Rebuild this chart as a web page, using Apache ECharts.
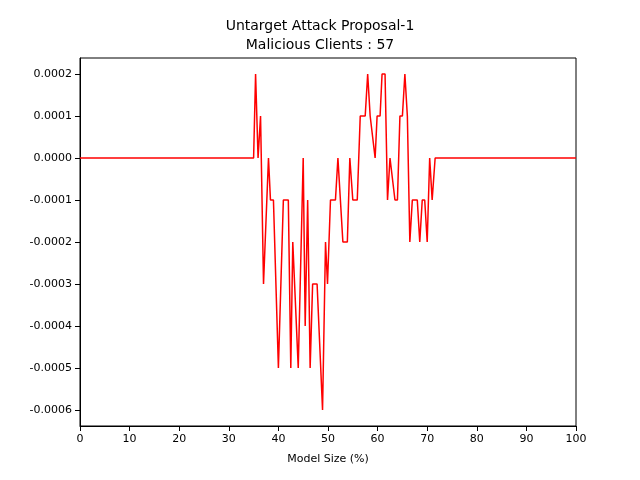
<!DOCTYPE html>
<html><head><meta charset="utf-8">
<script src="https://cdn.jsdelivr.net/npm/echarts@6/dist/echarts.min.js"></script>
<style>body{margin:0}#c{width:640px;height:480px}</style></head>
<body><div id="c"></div>
<script>
// vertices of the curve: model size (%) and accuracy change (x1e-4)
const sizes = [0,35,35.4,35.9,36.4,37,38,38.4,39,40,41,42,42.5,42.9,44,45,45.4,45.9,46.4,46.9,47.8,48.9,49.5,49.9,50.5,51.5,52,52.4,53,53.9,54.4,55,55.9,56.5,57.5,58,58.5,58.9,59.5,59.9,60.5,60.9,61.5,62,62.5,62.9,63.5,64,64.5,65,65.5,66,66.5,67,68,68.5,69,69.5,70,70.5,71,71.6,100];
const acc = [0,0,2,0,1,-3,0,-1,-1,-5,-1,-1,-5,-2,-5,0,-4,-1,-5,-3,-3,-6,-2,-3,-1,-1,0,0,-2,-2,0,-1,-1,1,1,2,1,1,0,1,1,2,2,-1,0,0,-1,-1,1,1,2,1,-2,-1,-1,-2,-1,-1,-2,0,-1,0,0];
const yTicks = [-6,-5,-4,-3,-2,-1,0,1,2];

const chart = echarts.init(document.getElementById('c'));
const txt = {color:'#000', fontFamily:'DejaVu Sans', fontSize:11};
chart.setOption({
  animation:false,
  title:{text:'Untarget Attack Proposal-1\nMalicious Clients : 57', left:'center', top:12,
    textStyle:{fontFamily:'DejaVu Sans', fontSize:14, fontWeight:'normal', color:'#000', lineHeight:19}},
  grid:{left:80, right:64, top:58, bottom:54, containLabel:false, outerBoundsMode:'none'},
  xAxis:{type:'value', min:0, max:100, interval:10, name:'Model Size (%)', nameLocation:'middle', nameGap:28,
    nameTextStyle:txt, axisLabel:txt, splitLine:{show:false},
    axisLine:{onZero:false, lineStyle:{color:'#000'}}, axisTick:{show:true, lineStyle:{color:'#000'}}},
  yAxis:{type:'value', min:-6.38, max:2.38, name:'Accuracy', nameLocation:'middle', nameGap:84,
    nameTextStyle:txt, splitLine:{show:false},
    axisLine:{show:true, lineStyle:{color:'#000'}},
    axisTick:{show:true, customValues:yTicks, lineStyle:{color:'#000'}},
    axisLabel:Object.assign({customValues:yTicks, formatter:v=>(v/1e4).toFixed(4)}, txt)},
  series:[{type:'line', data:sizes.map((s,i)=>[s,acc[i]]), showSymbol:false,
    lineStyle:{color:'#ff0000', width:1.5}}]
});
// frame lines
chart.setOption({graphic:[{type:'rect', shape:{x:80,y:58,width:496,height:368}, style:{fill:'none',stroke:'#000',lineWidth:1}}]});
</script></body></html>
